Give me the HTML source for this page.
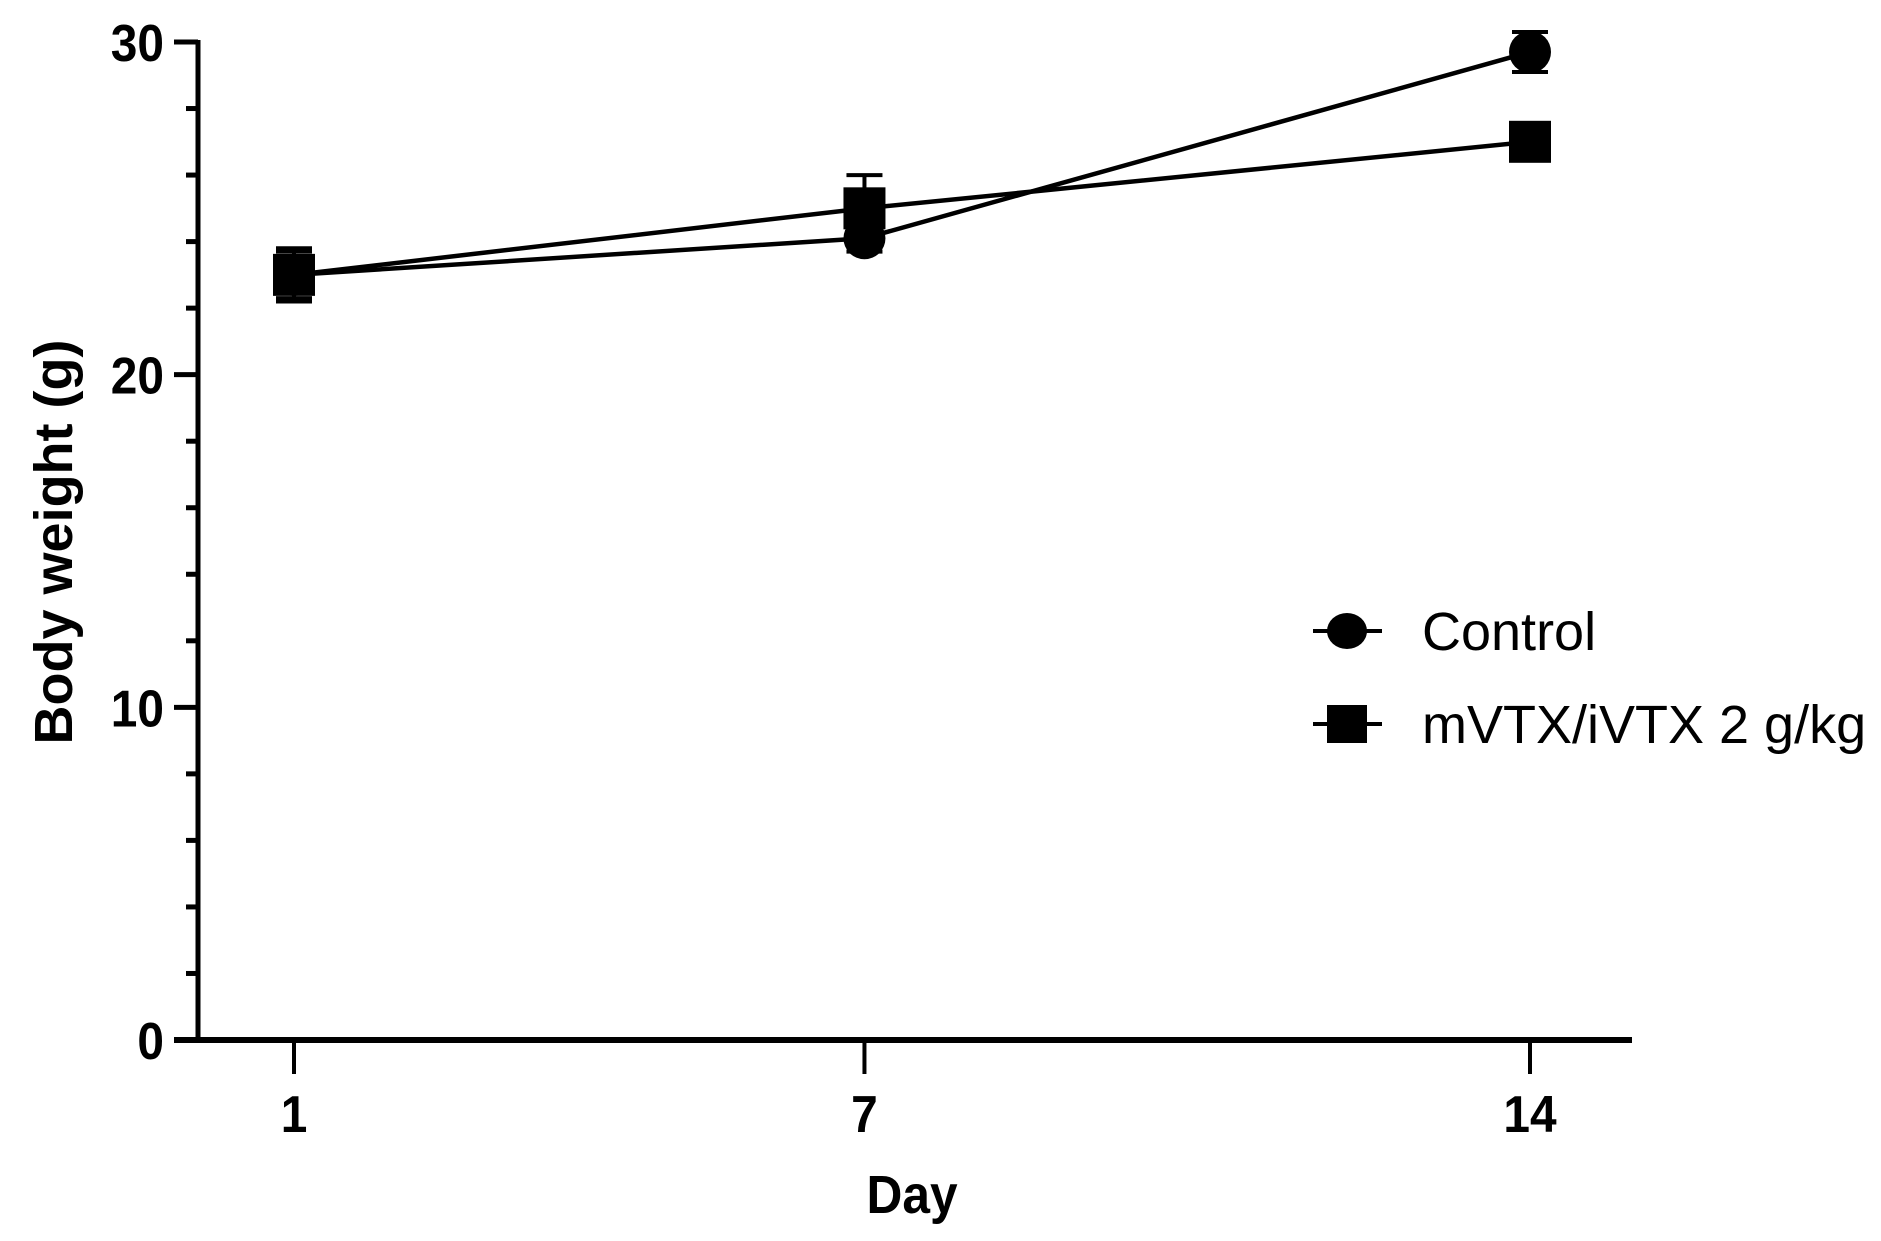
<!DOCTYPE html>
<html><head><meta charset="utf-8"><style>
html,body{margin:0;padding:0;background:#fff;}
svg{display:block;font-family:"Liberation Sans",Arial,sans-serif;}
</style></head><body>
<svg id="chart" width="1881" height="1241" viewBox="0 0 1881 1241"></svg>
<script>
const days = [1, 7, 14];
const controlValues = [23.0, 24.1, 29.7];
const controlErrors = [0.7, 0.4, 0.6];
const treatValues = [23.0, 25.0, 27.0];
const treatErrors = [0.8, 1.0, 0.4];
const yTicks = [0, 10, 20, 30];
const yMinorTicks = [2,4,6,8,12,14,16,18,22,24,26,28];
const xTickLabels = ["1", "7", "14"];

const NS = "http://www.w3.org/2000/svg";
const svg = document.getElementById("chart");
function el(tag, attrs, parent) {
  const e = document.createElementNS(NS, tag);
  for (const k in attrs) e.setAttribute(k, attrs[k]);
  (parent || svg).appendChild(e);
  return e;
}
const yAxisX = 198, y0 = 1040, y30 = 42;
function yScale(v) { return y0 - (v / 30) * (y0 - y30); }
function xScale(d) { return 294 + (d - 1) * (1530 - 294) / 13; }

const axes = el("g", {});


el("line", {x1: yAxisX, y1: y30 - 2, x2: yAxisX, y2: y0, stroke: "#000", "stroke-width": 5}, axes);
el("line", {x1: 174, y1: y0, x2: 1632, y2: y0, stroke: "#000", "stroke-width": 6}, axes);
yTicks.forEach(v => {
  const y = yScale(v);
  el("line", {x1: 174, y1: y, x2: yAxisX, y2: y, stroke: "#000", "stroke-width": 5}, axes);
  const t = el("text", {x: 0, y: 0, "text-anchor": "end", "font-size": 52, "font-weight": "bold", transform: "translate(164," + (y + 19) + ") scale(0.92,1)"}, axes);
  t.textContent = v;
  
  
});
yMinorTicks.forEach(v => {
  const y = yScale(v);
  el("line", {x1: 186, y1: y, x2: yAxisX, y2: y, stroke: "#000", "stroke-width": 5}, axes);
});
days.forEach((d, i) => {
  const x = xScale(d);
  el("line", {x1: x, y1: y0, x2: x, y2: 1074, stroke: "#000", "stroke-width": 4}, axes);
  const t = el("text", {x: 0, y: 0, "text-anchor": "middle", "font-size": 52, "font-weight": "bold", transform: "translate(" + x + ",1132) scale(0.92,1)"}, axes);
  t.textContent = xTickLabels[i];
  
  
});
const xt = el("text", {x: 0, y: 0, "text-anchor": "middle", "font-size": 54, "font-weight": "bold", transform: "translate(912,1213) scale(0.92,1)"});
xt.textContent = "Day";


const yt = el("text", {x: 0, y: 0, "text-anchor": "middle", "font-size": 54, "font-weight": "bold", transform: "translate(72,542) rotate(-90)"});
yt.textContent = "Body weight (g)";



function drawSeries(vals, errs, shape, name) {
  const g = el("g", {});
  
  
  const pts = days.map((d, i) => xScale(d) + "," + yScale(vals[i])).join(" ");
  const line = el("polyline", {points: pts, fill: "none", stroke: "#000", "stroke-width": 4.5}, g);
  
  
  days.forEach((d, i) => {
    const x = xScale(d), y = yScale(vals[i]);
    const yt = yScale(vals[i] + errs[i]), yb = yScale(vals[i] - errs[i]);
    el("line", {x1: x, y1: yt, x2: x, y2: yb, stroke: "#000", "stroke-width": 4}, g);
    el("line", {x1: x - 18, y1: yt, x2: x + 18, y2: yt, stroke: "#000", "stroke-width": 4}, g);
    el("line", {x1: x - 18, y1: yb, x2: x + 18, y2: yb, stroke: "#000", "stroke-width": 4}, g);
    let m;
    if (shape === "circle") m = el("circle", {cx: x, cy: y, r: 21, fill: "#000"}, g);
    else m = el("rect", {x: x - 21, y: y - 21, width: 42, height: 42, fill: "#000"}, g);
    
    
  });
}
drawSeries(controlValues, controlErrors, "circle", "control");
drawSeries(treatValues, treatErrors, "square", "treatment");

const leg = el("g", {});


const e1 = el("g", {}, leg);


el("line", {x1: 1313, y1: 631, x2: 1382, y2: 631, stroke: "#000", "stroke-width": 4}, e1);
el("ellipse", {cx: 1347, cy: 631, rx: 20, ry: 18, fill: "#000"}, e1);
const l1 = el("text", {x: 1422, y: 650, "font-size": 54}, e1);
l1.textContent = "Control";
const e2 = el("g", {}, leg);


el("line", {x1: 1313, y1: 724, x2: 1382, y2: 724, stroke: "#000", "stroke-width": 4}, e2);
el("rect", {x: 1327, y: 705, width: 40, height: 38, fill: "#000"}, e2);
const l2 = el("text", {x: 1422, y: 743, "font-size": 54}, e2);
l2.textContent = "mVTX/iVTX 2 g/kg";
</script>
</body></html>
